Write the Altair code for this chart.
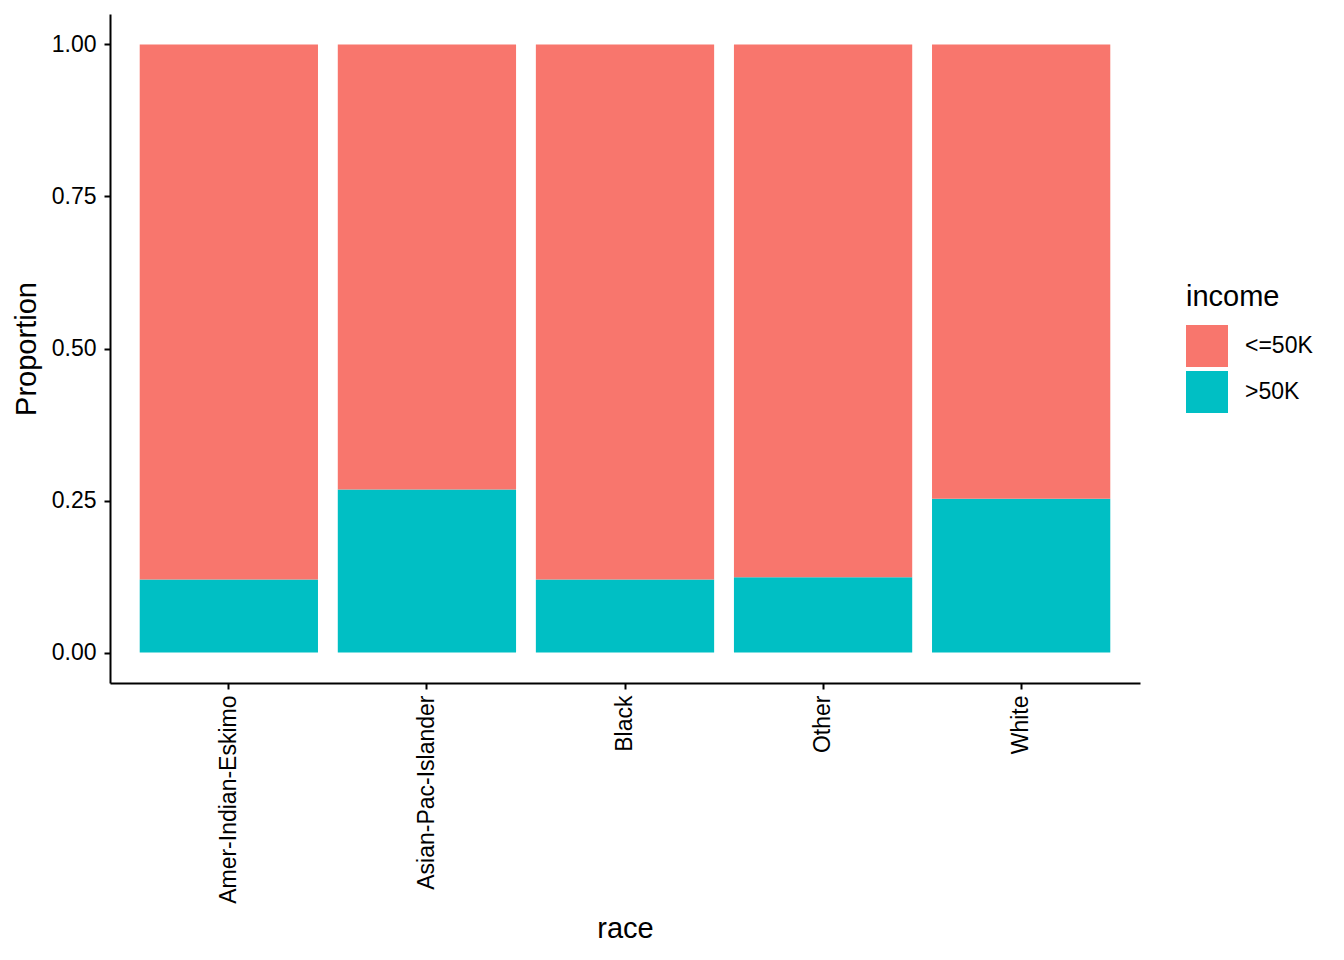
import altair as alt
import pandas as pd

races = ["Amer-Indian-Eskimo", "Asian-Pac-Islander", "Black", "Other", "White"]
high_income = [0.120, 0.268, 0.120, 0.124, 0.253]
income_levels = ["<=50K", ">50K"]
colors = ["#F8766D", "#00BFC4"]

rows = []
for r, h in zip(races, high_income):
    rows.append({"race": r, "income": ">50K", "Proportion": h, "order": 0})
    rows.append({"race": r, "income": "<=50K", "Proportion": 1 - h, "order": 1})
df = pd.DataFrame(rows)

font = "Liberation Sans"

chart = alt.Chart(df).mark_bar().encode(
    x=alt.X("race:N", sort=races,
            scale=alt.Scale(paddingInner=0.1, paddingOuter=0.15),
            axis=alt.Axis(title="race", labelAngle=270, labelPadding=6,
                          labelLimit=400, titlePadding=31)),
    y=alt.Y("Proportion:Q", stack=True,
            scale=alt.Scale(domain=[-0.05, 1.05], nice=False, zero=False),
            axis=alt.Axis(title="Proportion", values=[0, 0.25, 0.5, 0.75, 1.0],
                          format=".2f", labelPadding=8, titlePadding=10)),
    color=alt.Color("income:N", sort=income_levels,
                    scale=alt.Scale(domain=income_levels, range=colors),
                    legend=alt.Legend(title="income", orient="none",
                                      legendX=1076, legendY=269,
                                      symbolType="square", symbolSize=1764,
                                      symbolStrokeWidth=0, symbolOpacity=1,
                                      rowPadding=4, labelOffset=17,
                                      titlePadding=13)),
    order=alt.Order("order:Q"),
).properties(
    width=1030, height=669,
    padding={"left": 102, "top": 6, "right": 196, "bottom": 269},
    autosize=alt.AutoSizeParams(type="none"),
).configure_view(
    stroke=None
).configure_axis(
    grid=False, domainColor="black", domainWidth=2, tickColor="black",
    tickWidth=2, tickSize=6, labelColor="black", titleColor="black",
    labelFont=font, titleFont=font, labelFontSize=23, titleFontSize=29,
    titleFontWeight="normal"
).configure_legend(
    labelFont=font, titleFont=font, labelFontSize=23, titleFontSize=29,
    titleFontWeight="normal", labelColor="black", titleColor="black"
)

chart.save("out.html", embed_options={"renderer": "svg", "actions": False})
